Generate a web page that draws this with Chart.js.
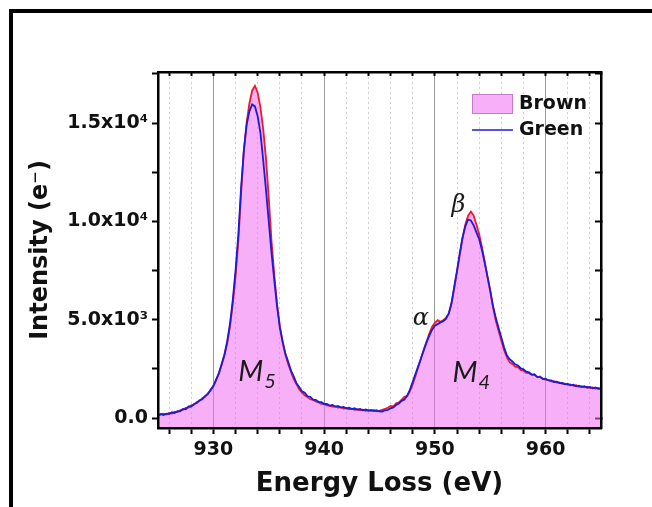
<!DOCTYPE html>
<html>
<head>
<meta charset="utf-8">
<script src="https://cdn.jsdelivr.net/npm/chart.js@4.4.1/dist/chart.umd.min.js"></script>
<style>
    html, body { margin: 0; padding: 0; background: #fff; }
    #wrap { position: relative; width: 652px; height: 507px; overflow: hidden; }
    #frame {
        position: absolute; left: 9px; top: 9px; width: 700px; height: 494px;
        border-left: 4px solid #000; border-top: 4px solid #000; border-bottom: 1px solid #ddd;
    }
    #chartBox { position: absolute; left: 0; top: 0; width: 652px; height: 507px; }
</style>
</head>
<body>
<div id="wrap">
    <div id="frame"></div>
    <div id="chartBox"><canvas id="eelsChart"></canvas></div>
</div>
<script>
// Energy grid: 925 -> 965 eV, 0.25 eV per channel
const E_START = 925;
const E_STEP = 0.25;

// "Brown" spectrum (red line, pink fill)
const brown = [
    120, 190, 230, 180, 260, 240, 330, 310,
    400, 420, 520, 540, 650, 690, 820, 870,
    1010, 1090, 1260, 1400, 1660, 1920, 2300, 2700,
    3200, 3800, 4650, 5800, 7200, 9000, 11400, 13600,
    15000, 16000, 16650, 16900, 16550, 15800, 14700, 13200,
    11200, 9000, 7300, 5800, 4700, 3850, 3250, 2760,
    2380, 2000, 1730, 1470, 1300, 1160, 1080, 960,
    930, 850, 800, 730, 720, 650, 630, 590,
    600, 540, 560, 490, 510, 450, 480, 420,
    460, 400, 430, 370, 410, 360, 420, 350,
    380, 420, 480, 530, 620, 600, 760, 800,
    940, 1080, 1120, 1380, 1720, 2150, 2600, 3050,
    3500, 3900, 4300, 4650, 4850, 4980, 4900, 4980,
    5100, 5300, 5800, 6600, 7450, 8300, 9150, 9850,
    10300, 10500, 10300, 9850, 9350, 8700, 7950, 7200,
    6450, 5650, 4950, 4450, 3950, 3450, 3100, 2850,
    2760, 2620, 2600, 2450, 2420, 2300, 2290, 2200,
    2230, 2080, 2120, 1990, 1960, 1940, 1870, 1880,
    1810, 1820, 1750, 1760, 1690, 1720, 1640, 1670,
    1600, 1630, 1570, 1600, 1530, 1560, 1510, 1540,
    1480
];

// "Green" spectrum (blue line)
const green = [
    150, 210, 160, 230, 210, 300, 260, 360,
    350, 470, 450, 600, 590, 720, 770, 910,
    960, 1130, 1220, 1450, 1620, 1970, 2280, 2770,
    3240, 3920, 4800, 6000, 7500, 9300, 11700, 13600,
    14900, 15600, 15950, 15850, 15350, 14500, 13100, 11600,
    10000, 8400, 7000, 5700, 4600, 3920, 3280, 2880,
    2430, 2130, 1780, 1580, 1360, 1290, 1110, 1090,
    940, 930, 820, 820, 720, 730, 640, 670,
    590, 620, 540, 570, 500, 530, 460, 500,
    430, 470, 400, 440, 380, 420, 360, 400,
    340, 330, 400, 420, 500, 550, 670, 740,
    880, 950, 1150, 1450, 1850, 2250, 2650, 3050,
    3450, 3850, 4200, 4500, 4700, 4780, 4870, 4930,
    5050, 5320, 5850, 6700, 7500, 8400, 9200, 9750,
    10100, 10050, 9800, 9450, 9100, 8550, 7900, 7200,
    6500, 5700, 5100, 4600, 4100, 3600, 3200, 3000,
    2880, 2740, 2680, 2540, 2480, 2360, 2330, 2220,
    2210, 2100, 2090, 2000, 2010, 1920, 1920, 1840,
    1860, 1780, 1790, 1720, 1740, 1670, 1700, 1620,
    1650, 1580, 1620, 1550, 1590, 1520, 1560, 1490,
    1510
];

const energies = brown.map((_, i) => E_START + i * E_STEP);

const xMajorValues = [930, 940, 950, 960];
const xTickLabels = ['930', '940', '950', '960'];
const yMajorValues = [0, 5000, 10000, 15000];
const yTickLabels = ['0.0', '5.0x10\u00B3', '1.0x10\u2074', '1.5x10\u2074'];

const X_MIN = 925, X_MAX = 965;
const Y_MIN = -500, Y_MAX = 17600;
const X_MINOR = 2, Y_MINOR = 2500;

const FILL_PINK = 'rgba(240, 110, 240, 0.55)';

Chart.defaults.font.family = "'DejaVu Sans', sans-serif";
Chart.defaults.color = '#111';

function fixSize(w, h) {
    return function (scale) {
        if (w !== null) scale.width = w;
        if (h !== null) scale.height = h;
    };
}

// put ticks on every multiple of the minor step inside the range
function stepTicks(step) {
    return function (scale) {
        const out = [];
        for (let v = Math.ceil(scale.min / step) * step; v <= scale.max; v += step) {
            if (v > scale.min && v < scale.max) out.push({ value: v });
        }
        scale.ticks = out;
    };
}

const isMajorX = ctx => ctx.tick && xMajorValues.includes(ctx.tick.value);

// annotations and legend drawn on top of the plot
const overlayPlugin = {
    id: 'overlay',
    afterDatasetsDraw(chart) {
        const ctx = chart.ctx;
        const xs = chart.scales.x, ys = chart.scales.y;
        ctx.save();
        ctx.fillStyle = '#1a1a1a';
        ctx.textBaseline = 'alphabetic';

        const edgeLabel = (main, sub, ex, iy) => {
            const px = xs.getPixelForValue(ex), py = ys.getPixelForValue(iy);
            ctx.font = "italic 29px Lato";
            ctx.textAlign = 'left';
            ctx.fillText(main, px, py);
            const w = ctx.measureText(main).width;
            ctx.font = "italic 20px Lato";
            ctx.fillText(sub, px + w + 1, py + 7);
        };
        edgeLabel('M', '5', 932.25, 1880);
        edgeLabel('M', '4', 951.6, 1830);

        ctx.font = "italic 24px 'DejaVu Serif'";
        ctx.fillText('\u03B1', xs.getPixelForValue(948.0), ys.getPixelForValue(4730));
        ctx.fillText('\u03B2', xs.getPixelForValue(951.5), ys.getPixelForValue(10470));

        // legend
        const area = chart.chartArea;
        const lx = area.right - 129, ly = area.top + 22;
        const dsBrown = chart.data.datasets.find(d => d.label === 'Brown');
        const dsGreen = chart.data.datasets.find(d => d.label === 'Green');
        ctx.fillStyle = '#ffffff';
        ctx.fillRect(lx, ly, 41, 20);
        ctx.fillStyle = dsBrown.backgroundColor;
        ctx.fillRect(lx, ly, 41, 20);
        ctx.strokeStyle = '#c77ac7';
        ctx.lineWidth = 1;
        ctx.strokeRect(lx + 0.5, ly + 0.5, 40, 19);
        ctx.strokeStyle = dsGreen.borderColor;
        ctx.lineWidth = 1.5;
        ctx.beginPath();
        ctx.moveTo(lx, ly + 36);
        ctx.lineTo(lx + 41, ly + 36);
        ctx.stroke();
        ctx.fillStyle = '#111';
        ctx.font = "bold 19px 'DejaVu Sans'";
        ctx.textBaseline = 'middle';
        ctx.fillText(dsBrown.label, lx + 47, ly + 10);
        ctx.fillText(dsGreen.label, lx + 47, ly + 36);
        ctx.restore();
    }
};

const ctx = document.getElementById('eelsChart').getContext('2d');
new Chart(ctx, {
    type: 'line',
    data: {
        datasets: [
            {
                label: 'Green',
                data: energies.map((e, i) => ({ x: e, y: green[i] })),
                borderColor: '#1c1cd8',
                borderWidth: 1.8,
                pointRadius: 0,
                fill: false,
                order: 0
            },
            {
                label: 'Brown',
                data: energies.map((e, i) => ({ x: e, y: brown[i] })),
                borderColor: '#ea1b2a',
                backgroundColor: FILL_PINK,
                borderWidth: 1.8,
                pointRadius: 0,
                fill: 'start',
                order: 1
            }
        ]
    },
    options: {
        responsive: true,
        maintainAspectRatio: false,
        animation: false,
        layout: { padding: 0 },
        plugins: {
            legend: { display: false },
            tooltip: { enabled: false }
        },
        scales: {
            x: {
                type: 'linear',
                position: 'bottom',
                min: X_MIN, max: X_MAX,
                afterBuildTicks: stepTicks(X_MINOR),
                afterFit: fixSize(null, 79),
                grid: {
                    color: ctx => isMajorX(ctx) ? '#9a9a9a' : '#cfcfcf',
                    lineWidth: 1,
                    tickColor: '#000',
                    tickWidth: 2,
                    tickLength: 6,
                    tickBorderDash: []
                },
                border: { color: '#000', width: 2.5, z: 1, dash: ctx => (ctx.tick && !isMajorX(ctx)) ? [2, 3] : [] },
                ticks: {
                    autoSkip: false,
                    maxRotation: 0,
                    padding: 5,
                    color: '#111',
                    font: { size: 19, weight: 'bold' },
                    callback: v => {
                        const k = xMajorValues.indexOf(v);
                        return k >= 0 ? xTickLabels[k] : '';
                    }
                },
                title: {
                    display: true,
                    text: 'Energy Loss (eV)',
                    color: '#111',
                    font: { size: 26, weight: 'bold' },
                    padding: { top: 0, bottom: 7 }
                }
            },
            x2: {
                type: 'linear',
                position: 'top',
                min: X_MIN, max: X_MAX,
                afterBuildTicks: stepTicks(X_MINOR),
                afterFit: fixSize(null, 72),
                grid: { drawOnChartArea: false, tickColor: '#000', tickWidth: 2, tickLength: -4, tickBorderDash: [] },
                border: { color: '#000', width: 2.5, z: 1 },
                ticks: { autoSkip: false, display: false }
            },
            y: {
                type: 'linear',
                position: 'left',
                min: Y_MIN, max: Y_MAX,
                afterBuildTicks: stepTicks(Y_MINOR),
                afterFit: fixSize(158, null),
                grid: { drawOnChartArea: false, tickColor: '#000', tickWidth: 2, tickLength: 6, tickBorderDash: [] },
                border: { color: '#000', width: 2.5, z: 1 },
                ticks: {
                    autoSkip: false,
                    padding: 4,
                    color: '#111',
                    font: { size: 19, weight: 'bold' },
                    callback: v => {
                        const k = yMajorValues.indexOf(v);
                        return k >= 0 ? yTickLabels[k] : '';
                    }
                },
                title: {
                    display: true,
                    text: 'Intensity (e\u207B)',
                    color: '#111',
                    font: { size: 24, weight: 'bold' },
                    padding: { top: 26, bottom: 0 }
                }
            },
            y2: {
                type: 'linear',
                position: 'right',
                min: Y_MIN, max: Y_MAX,
                afterBuildTicks: stepTicks(Y_MINOR),
                afterFit: fixSize(51, null),
                grid: { drawOnChartArea: false, tickColor: '#000', tickWidth: 2, tickLength: -6, tickBorderDash: [] },
                border: { color: '#000', width: 2.5, z: 1 },
                ticks: { autoSkip: false, display: false }
            }
        }
    },
    plugins: [overlayPlugin]
});
</script>
</body>
</html>
